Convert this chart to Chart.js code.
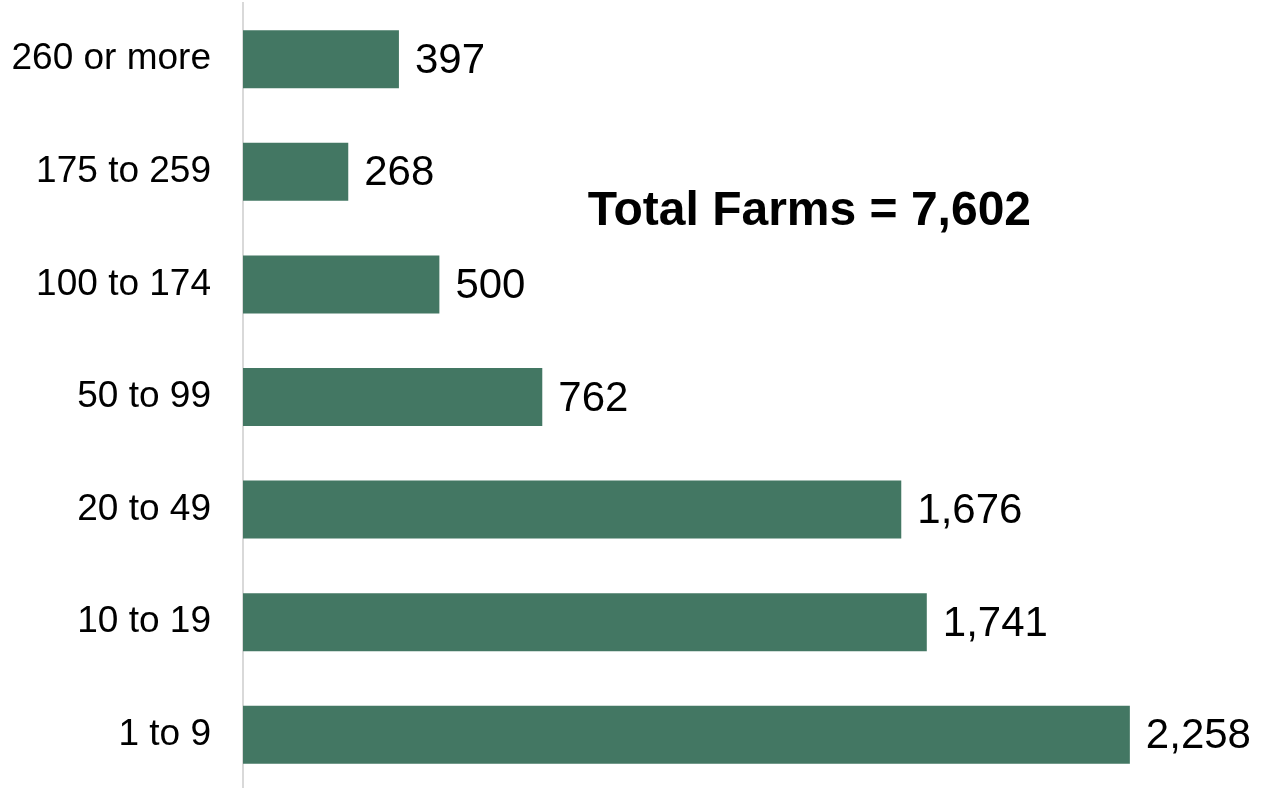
<!DOCTYPE html>
<html>
<head>
<meta charset="utf-8">
<script src="https://cdn.jsdelivr.net/npm/chart.js@4/dist/chart.umd.min.js"></script>
<style>
  html, body { margin: 0; padding: 0; background: #fff; overflow: hidden; }
  #wrap { width: 1263px; height: 791px; }
</style>
</head>
<body>
<div id="wrap"><canvas id="myChart"></canvas></div>
<script>
const sizeClasses = ["260 or more", "175 to 259", "100 to 174", "50 to 99", "20 to 49", "10 to 19", "1 to 9"];
const farmCounts = [397, 268, 500, 762, 1676, 1741, 2258];
const totalFarms = 7602;

const barLabels = {
  id: "barLabels",
  afterDatasetsDraw: (chart) => {
    const { ctx } = chart;
    const meta = chart.getDatasetMeta(0);
    ctx.save();
    ctx.font = "42px 'Liberation Sans', Arial, sans-serif";
    ctx.fillStyle = "#000";
    ctx.textAlign = "left";
    ctx.textBaseline = "middle";
    meta.data.forEach((bar, i) => {
      ctx.fillText(farmCounts[i].toLocaleString("en-US"), bar.x + 16, bar.y + 2);
    });
    ctx.restore();
  },
};

const totalNote = {
  id: "totalNote",
  afterDraw: (chart) => {
    const { ctx, scales: { x, y } } = chart;
    ctx.save();
    ctx.font = "bold 48px 'Liberation Sans', Arial, sans-serif";
    ctx.fillStyle = "#000";
    ctx.textAlign = "center";
    ctx.textBaseline = "alphabetic";
    // sits between the 2nd and 3rd bars, right of them
    ctx.fillText("Total Farms = " + totalFarms.toLocaleString("en-US"), x.getPixelForValue(1442), y.getPixelForValue(1.5) - 3);
    ctx.restore();
  },
};

const config = {
  type: "bar",
  data: {
    labels: sizeClasses,
    datasets: [
      {
        data: farmCounts,
        backgroundColor: "#437763",
        borderWidth: 0,
        categoryPercentage: 1,
        barPercentage: 0.515,
      },
    ],
  },
  options: {
    indexAxis: "y",
    responsive: true,
    maintainAspectRatio: false,
    animation: false,
    layout: { padding: { top: 3, right: 0, bottom: 0, left: 0 } },
    plugins: {
      legend: { display: false },
      tooltip: { enabled: false },
    },
    scales: {
      x: {
        display: false,
        min: 0,
        max: 2597,
      },
      y: {
        afterFit: (scale) => {
          scale.width = 243;
          scale.paddingTop = 0;
          scale.paddingBottom = 0;
        },
        grid: { display: false, drawTicks: false },
        border: { display: true, color: "#d9d9d9", width: 2 },
        ticks: {
          padding: 32,
          color: "#000",
          font: { family: "'Liberation Sans', Arial, sans-serif", size: 37 },
        },
      },
    },
  },
  plugins: [barLabels, totalNote],
};

const myChart = new Chart(document.getElementById("myChart"), config);
</script>
</body>
</html>
